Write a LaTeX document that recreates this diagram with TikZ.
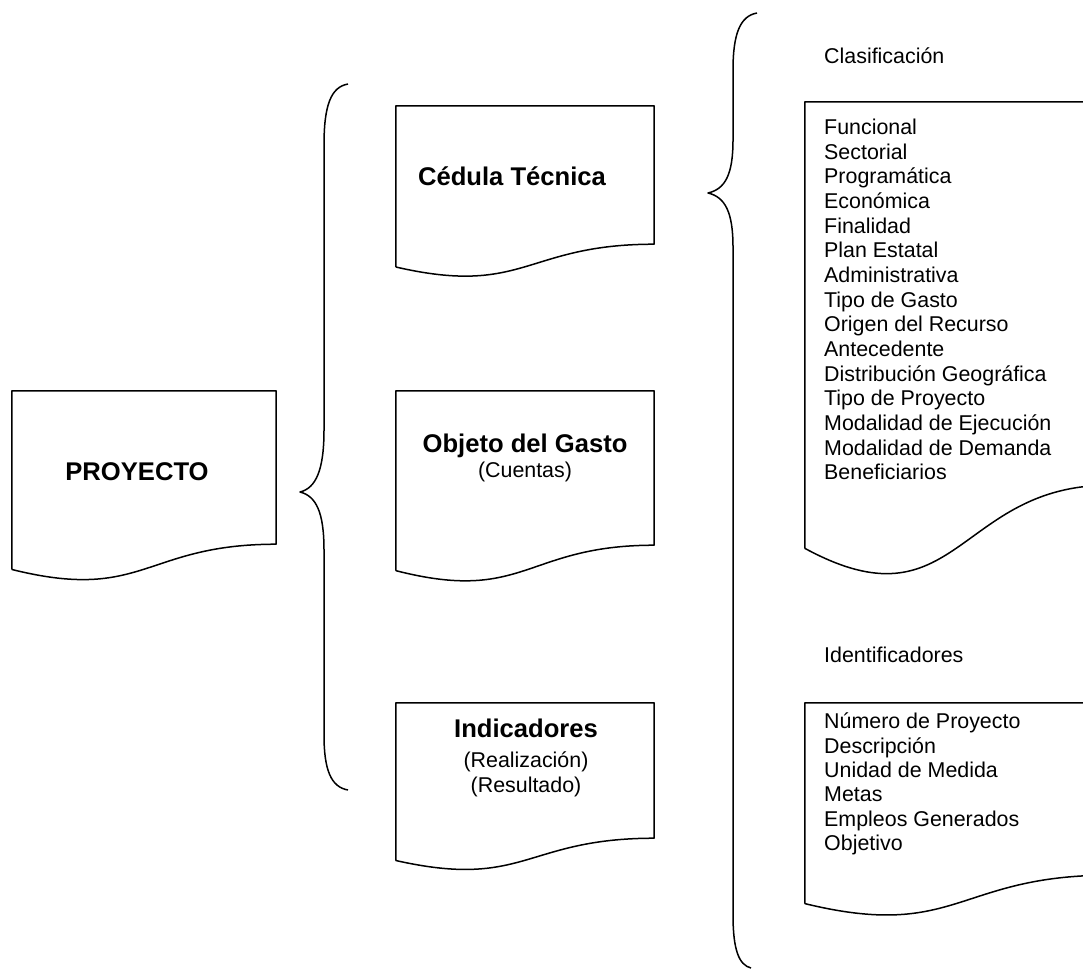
\documentclass[tikz,border=0pt]{standalone}
\usepackage{fontspec}
\setmainfont{Liberation Sans}
\usetikzlibrary{calc}

% contorno de hoja con borde ondulado abajo
\newcommand{\hoja}[2][0.38]{%
  \draw[borde] ($(#2.south west)!-0.1646!(#2.north west)$) -- (#2.north west) -- (#2.north east) -- (#2.south east)
    .. controls (#2.south) and ($(#2.south)!-#1!(#2.north)$) .. ($(#2.south west)!-0.1646!(#2.north west)$);}

\begin{document}
\begin{tikzpicture}[x=1pt,y=-1pt,line join=round]
  \tikzstyle{borde}=[line width=1.5pt,
                     draw=black]
  \tikzstyle{documento}=[rectangle,
                         inner sep=0pt,
                         draw=none]
  \tikzstyle{titulo}=[font=\fontsize{25.6}{25}\bfseries,
                      inner sep=0pt]
  \tikzstyle{texto}=[font=\fontsize{21.4}{24.6}\selectfont,
                     inner sep=0pt]
  \tikzstyle{renglon}=[texto,anchor=base west]
  \useasboundingbox[fill=white] (0,0) rectangle (1083,970);

  %Hojas
  \node[documento, minimum width=264pt, minimum height=153pt] (proyecto) at (144,467.5) {};
  \node[documento, minimum width=258pt, minimum height=138pt] (cedula) at (525,175) {};
  \node[documento, minimum width=258pt, minimum height=154pt] (objeto) at (525,468) {};
  \node[documento, minimum width=258pt, minimum height=135pt] (indic) at (525,770.5) {};
  \node[documento, minimum width=304pt, minimum height=383pt] (clasif) at (957,293.5) {};
  \node[documento, minimum width=304pt, minimum height=172pt] (ident) at (957,789) {};
  \hoja{proyecto}
  \hoja{cedula}
  \hoja{objeto}
  \hoja{indic}
  \hoja{clasif}
  \hoja{ident}

  %Textos de las hojas
  \node[titulo] (t_proy) at (137,472) {PROYECTO};
  \node[titulo] (t_ced) at (512,176) {Cédula Técnica};
  \node[texto, align=center] (t_obj) at (525,458) {{\fontsize{25.6}{25}\bfseries Objeto del Gasto}\\(Cuentas)};
  \node[texto, align=center] (t_ind) at (526,758) {{\fontsize{25.6}{25}\bfseries Indicadores}\\[5pt](Realización)\\(Resultado)};

  %Encabezados
  \node[renglon] (h_clasif) at (824,63.7) {Clasificación};
  \node[renglon] (h_ident) at (824,662.7) {Identificadores};

  %Listas
  \foreach \t [count=\i from 0] in {Funcional,Sectorial,Programática,Económica,Finalidad,Plan Estatal,Administrativa,Tipo de Gasto,Origen del Recurso,Antecedente,Distribución Geográfica,Tipo de Proyecto,Modalidad de Ejecución,Modalidad de Demanda,Beneficiarios}
    \node[renglon] (cl\i) at (824,134.7+24.64*\i) {\t};
  \foreach \t [count=\i from 0] in {Número de Proyecto,Descripción,Unidad de Medida,Metas,Empleos Generados,Objetivo}
    \node[renglon] (id\i) at (824,728.7+24.4*\i) {\t};

  %Llaves
  \draw[borde] (348,84) .. controls (331,87) and (324,105) .. (324,145) -- (324,430)
    .. controls (324,470) and (316,488) .. (300,492)
    .. controls (316,496) and (324,512) .. (324,550) -- (324,735)
    .. controls (324,770) and (331,787) .. (348,790);
  \draw[borde] (757,13) .. controls (740,16) and (733,34) .. (733,70) -- (733,140)
    .. controls (733,175) and (725,189) .. (708,193)
    .. controls (725,197) and (733,212) .. (733,247) -- (733,915)
    .. controls (733,950) and (739,965) .. (751,968);
\end{tikzpicture}
\end{document}
